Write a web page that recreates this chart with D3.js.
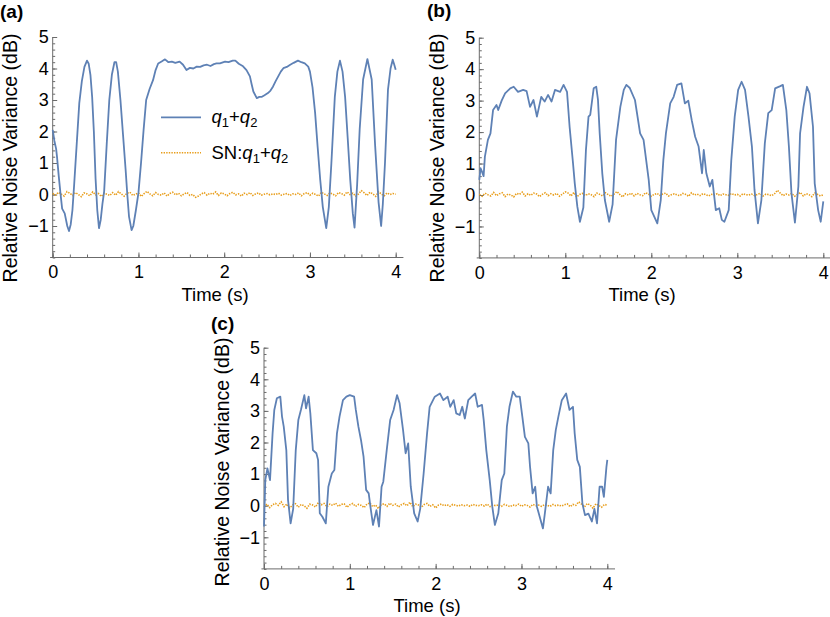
<!DOCTYPE html>
<html lang="en">
<head>
  <meta charset="UTF-8">
  <title>Relative Noise Variance</title>
  <script src="https://cdn.jsdelivr.net/npm/d3@7"></script>
  <style>
    body{ margin:0; background:#fff; }
    text{ font-family:"Liberation Sans", Arial, sans-serif; fill:#000; }
    .axis path, .axis line{ stroke:#6b6b6b; }
  </style>
</head>
<body>
  <svg id="chart" width="830" height="617"></svg>
  <script>

  // tick values and labels
  var xTicks = [0, 1, 2, 3, 4],
    yTicks = [-1, 0, 1, 2, 3, 4, 5],
    panelLabels = ["(a)", "(b)", "(c)"];

  // (a) q1+q2, [time s, dB]
  var curveA = [[0,2.05],[0.02,1.7],[0.04,1.45],[0.05,1.2],[0.07,0.6],[0.09,0.05],[0.11,-0.45],[0.14,-0.6],[0.17,-1.0],[0.19,-1.16],[0.21,-0.95],[0.23,-0.5],[0.25,0.3],[0.28,1.6],[0.31,2.9],[0.34,3.6],[0.37,4.05],[0.40,4.25],[0.42,4.15],[0.44,3.8],[0.46,3.1],[0.48,2.0],[0.50,0.5],[0.52,-0.5],[0.54,-1.07],[0.56,-0.8],[0.58,-0.3],[0.60,0.1],[0.63,1.6],[0.66,3.0],[0.69,3.8],[0.72,4.2],[0.74,4.2],[0.76,3.9],[0.79,3.0],[0.82,1.9],[0.85,0.8],[0.87,0.0],[0.89,-0.7],[0.92,-1.13],[0.94,-1.0],[0.97,-0.5],
    [1.0,0.05],[1.03,1.0],[1.06,2.05],[1.09,3.0],[1.13,3.35],[1.17,3.63],[1.2,3.95],[1.23,4.16],[1.27,4.22],[1.31,4.29],[1.35,4.2],[1.39,4.22],[1.43,4.18],[1.48,4.22],[1.52,4.12],[1.56,3.95],[1.6,4.02],[1.64,4.0],[1.68,4.06],[1.72,4.05],[1.76,4.1],[1.8,4.12],[1.84,4.08],[1.88,4.14],[1.91,4.16],[1.95,4.16],[2.01,4.22],[2.05,4.2],
    [2.1,4.25],[2.13,4.25],[2.17,4.15],[2.22,4.07],[2.26,3.95],[2.3,3.75],[2.32,3.5],[2.34,3.27],[2.38,3.06],[2.41,3.1],[2.44,3.1],[2.47,3.15],[2.51,3.22],[2.54,3.3],[2.57,3.43],[2.6,3.6],[2.63,3.75],[2.66,3.9],[2.69,4.01],[2.73,4.05],[2.77,4.12],[2.81,4.18],[2.86,4.25],[2.9,4.2],[2.94,4.16],[2.98,4.06],[3.0,3.9],[3.03,3.4],[3.06,2.6],[3.09,1.5],[3.12,0.46],[3.15,-0.4],[3.19,-1.07],[3.22,-0.4],[3.25,1.0],[3.29,3.1],[3.32,3.9],[3.35,4.25],[3.38,3.9],[3.41,3.1],[3.44,1.8],[3.47,0.46],[3.5,-0.6],[3.52,-1.05],[3.55,0.3],[3.58,2.07],[3.62,3.65],[3.67,4.3],[3.72,3.65],[3.76,1.56],[3.8,-0.24],[3.83,-1.0],[3.85,-0.3],[3.875,1.0],[3.91,3.33],[3.94,4.0],[3.965,4.28],[3.98,4.15],[4.0,3.96]];

  // (b) q1+q2
  var curveB = [[0,0.48],[0.015,0.85],[0.03,0.75],[0.05,0.6],[0.065,1.22],[0.1,1.75],[0.13,1.96],[0.16,2.7],[0.2,2.86],[0.22,2.7],[0.26,3.0],[0.3,3.23],[0.36,3.39],[0.4,3.44],[0.45,3.28],[0.51,3.34],[0.55,3.3],[0.59,2.8],[0.63,3.02],[0.67,2.49],[0.72,3.12],[0.76,2.97],[0.8,3.18],[0.84,2.97],[0.88,3.34],[0.94,3.28],[0.98,3.5],[1.02,3.28],[1.05,2.17],[1.09,1.0],[1.11,0.37],[1.14,-0.37],[1.17,-0.85],[1.21,-0.4],[1.24,1.43],[1.27,2.49],[1.29,2.55],[1.33,3.39],[1.36,3.44],[1.38,3.02],[1.4,1.96],[1.43,0.69],[1.46,-0.16],[1.51,-0.85],[1.55,-0.3],[1.59,1.75],[1.64,2.8],[1.68,3.34],[1.71,3.5],[1.75,3.4],[1.81,3.02],[1.87,1.96],[1.91,1.75],[1.97,0.48],[2.0,-0.48],[2.07,-0.9],[2.11,-0.16],[2.14,1.11],[2.17,1.96],[2.22,2.91],[2.26,3.12],[2.3,3.5],[2.35,3.55],[2.39,2.91],[2.43,3.0],[2.47,2.38],[2.51,1.85],[2.55,1.54],[2.59,0.69],[2.61,1.43],[2.64,0.69],[2.68,0.27],[2.71,0.48],[2.75,-0.48],[2.79,-0.42],[2.82,-0.79],[2.85,-0.85],[2.9,-0.48],[2.93,1.1],[2.97,2.49],[3.01,3.34],[3.05,3.6],[3.09,3.34],[3.13,2.49],[3.17,1.54],[3.2,0.16],[3.24,-0.9],[3.28,-0.16],[3.32,1.64],[3.36,2.6],[3.4,2.7],[3.44,3.39],[3.5,3.46],[3.53,3.5],[3.57,2.7],[3.6,1.54],[3.63,0.05],[3.67,-0.88],[3.71,0.27],[3.73,1.96],[3.77,2.8],[3.81,3.44],[3.84,3.23],[3.88,2.17],[3.9,0.37],[3.94,-0.48],[3.97,-0.85],[4.0,-0.2]];

  // (c) q1+q2
  var curveC = [[0,-0.66],[0.015,0.81],[0.04,1.18],[0.07,0.81],[0.1,2.29],[0.12,3.03],[0.15,3.4],[0.19,3.45],[0.21,2.82],[0.23,2.5],[0.26,1.76],[0.28,0.18],[0.31,-0.56],[0.34,-0.1],[0.37,1.76],[0.4,2.71],[0.43,3.03],[0.47,3.5],[0.49,3.08],[0.52,3.45],[0.54,2.92],[0.57,1.76],[0.61,1.66],[0.63,1.45],[0.65,-0.24],[0.68,-0.35],[0.72,-0.56],[0.75,0.6],[0.79,1.02],[0.82,1.13],[0.85,2.29],[0.88,2.82],[0.92,3.34],[0.96,3.45],[1.0,3.5],[1.05,3.45],[1.07,3.03],[1.1,2.5],[1.13,2.08],[1.16,1.55],[1.19,0.5],[1.22,0.39],[1.24,-0.03],[1.27,-0.61],[1.31,-0.14],[1.34,-0.66],[1.37,0.6],[1.39,0.76],[1.43,1.76],[1.47,2.71],[1.51,3.03],[1.55,3.5],[1.58,3.24],[1.62,2.4],[1.65,1.66],[1.68,1.97],[1.71,0.6],[1.75,-0.24],[1.79,-0.5],[1.82,-0.1],[1.86,1.02],[1.9,2.29],[1.93,3.13],[1.99,3.45],[2.05,3.55],[2.09,3.34],[2.14,3.45],[2.17,3.13],[2.21,3.34],[2.24,2.92],[2.28,2.87],[2.31,3.13],[2.34,2.76],[2.38,3.34],[2.42,3.45],[2.46,3.55],[2.49,3.13],[2.54,3.19],[2.56,2.71],[2.59,1.76],[2.63,0.81],[2.66,-0.03],[2.69,-0.61],[2.73,-0.24],[2.77,0.81],[2.8,1.02],[2.83,2.5],[2.86,3.13],[2.9,3.61],[2.94,3.45],[2.98,3.45],[3.01,2.82],[3.04,2.18],[3.08,1.97],[3.1,1.23],[3.13,0.39],[3.16,0.6],[3.18,-0.03],[3.25,-0.72],[3.27,-0.3],[3.31,0.6],[3.34,0.39],[3.37,1.76],[3.4,2.4],[3.43,2.82],[3.47,3.34],[3.52,3.55],[3.56,3.03],[3.6,3.13],[3.62,2.29],[3.65,1.45],[3.68,1.23],[3.71,0.07],[3.74,-0.3],[3.78,-0.25],[3.82,-0.5],[3.85,-0.1],[3.88,-0.56],[3.91,0.6],[3.94,0.6],[3.96,0.28],[3.99,1.23],[4.0,1.45]];

  // SN:q1+q2, evenly spaced over 0..4 s
  var snA = [0.03,-0.02,0.07,0.01,-0.05,0.09,0.04,-0.03,0.06,0.00,-0.07,0.05,0.02,-0.04,0.08,-0.01,0.03,-0.06,0.04,0.01,
    -0.03,0.06,-0.02,0.09,0.02,-0.05,0.04,0.07,-0.03,0.01,0.05,-0.06,0.03,0.10,0.02,-0.04,0.06,0.00,-0.02,0.05,
    -0.05,0.03,0.07,-0.01,0.04,-0.04,0.02,0.06,-0.03,0.00,-0.09,-0.05,0.02,0.06,-0.02,0.04,0.01,0.08,-0.03,0.05,
    0.02,-0.04,0.03,0.07,-0.01,0.02,-0.05,0.04,0.00,0.06,-0.03,0.02,0.05,-0.02,0.01,0.03,-0.01,0.02,0.00,0.04,
    -0.02,0.01,0.03,-0.03,0.02,0.00,0.05,-0.04,0.03,0.06,-0.02,0.04,0.00,-0.05,0.07,0.02,-0.03,0.05,0.01,-0.04,
    0.06,0.03,-0.02,0.08,0.00,0.04,-0.05,0.02,0.12,0.05,-0.03,0.07,0.02,-0.06,0.09,0.01,-0.04,0.05,0.00,0.03,0.01];
  var snB = [0.02,-0.04,0.06,0.01,-0.03,0.08,-0.02,0.04,0.07,-0.05,0.03,0.00,-0.06,0.05,0.02,0.09,-0.03,0.04,-0.01,0.06,
    0.03,-0.05,0.02,0.07,-0.02,0.04,0.00,0.05,-0.04,0.03,0.10,0.06,-0.03,0.08,-0.06,0.02,0.05,-0.02,0.04,0.01,
    -0.05,0.06,0.02,-0.03,0.07,0.01,-0.04,0.03,0.11,0.02,-0.06,0.04,0.00,0.06,-0.03,0.05,0.01,-0.02,0.07,0.03,
    -0.04,0.02,0.05,-0.01,0.03,0.06,-0.03,0.01,0.04,0.00,-0.02,0.05,0.02,-0.04,0.07,0.00,0.03,-0.02,0.04,0.01,
    -0.03,0.02,0.00,0.04,-0.02,0.03,0.01,-0.01,0.05,0.00,0.02,-0.03,0.04,0.01,0.00,0.03,-0.02,0.02,0.05,-0.03,
    0.03,0.01,-0.02,0.04,0.15,0.06,-0.02,0.03,0.00,0.05,-0.04,0.02,0.08,-0.03,0.04,0.01,-0.05,0.06,0.02,-0.03,0.01];
  var snC = [-0.04,0.05,-0.06,0.03,0.07,0.01,0.12,-0.03,0.05,-0.07,0.02,0.06,-0.05,0.04,0.00,-0.08,0.05,0.02,-0.04,0.10,
    0.03,0.07,-0.03,0.05,0.01,0.08,-0.02,0.04,0.06,-0.05,0.03,0.07,-0.02,0.04,0.01,-0.06,0.05,0.09,-0.03,0.02,
    -0.09,0.04,0.06,-0.02,0.08,0.01,0.05,-0.04,0.03,0.07,0.00,0.11,-0.03,0.05,0.02,-0.05,0.04,0.07,-0.02,0.03,
    -0.07,0.02,0.05,0.00,0.03,-0.02,0.04,0.01,-0.01,0.03,0.00,0.02,-0.02,0.04,0.01,0.00,0.03,-0.01,0.05,-0.03,
    0.02,0.00,0.03,-0.02,0.04,0.01,-0.03,0.02,0.00,0.05,-0.02,0.03,0.01,-0.04,0.04,0.00,0.02,-0.02,0.03,0.01,
    -0.02,0.04,0.00,0.02,-0.01,0.03,0.06,-0.03,0.04,0.01,0.12,0.05,-0.04,0.07,0.02,-0.08,0.06,0.01,-0.05,0.04,0.02];

  var BLUE = "#5e81b5", ORANGE = "#e89e1c";

  var svg = d3.select("#chart");

  // pixel layout of each panel: x0/x4 = where t=0/t=4 sit, y0/y5 = where 0 dB / 5 dB sit
  var panels = [
    {curve: curveA, sn: snA, x0: 52.7, x4: 395.7, y0: 194.5, y5: 37, lab: [0, 18], yl: [10, 158], xl: 215},
    {curve: curveB, sn: snB, x0: 479.3, x4: 823.3, y0: 195, y5: 37.7, lab: [427, 17], yl: [437, 158], xl: 642},
    {curve: curveC, sn: snC, x0: 264, x4: 607.3, y0: 505.7, y5: 347.7, lab: [211, 330], yl: [222, 462], xl: 427}
  ];

  panels.forEach(function(p, i){
    var x = d3.scaleLinear().domain([0, 4]).range([p.x0, p.x4]),
      y = d3.scaleLinear().domain([0, 5]).range([p.y0, p.y5]),
      g = svg.append("g");

    // axis lines
    g.append("line").attr("x1", x(-0.03)).attr("x2", x(4.09))
      .attr("y1", y(-2)).attr("y2", y(-2)).attr("stroke", "#6b6b6b");
    g.append("line").attr("x1", x(0)).attr("x2", x(0))
      .attr("y1", y(-2)).attr("y2", y(5)).attr("stroke", "#6b6b6b");

    // minor ticks
    g.append("g").attr("class", "axis").attr("transform", "translate(0," + y(-2) + ")")
      .call(d3.axisBottom(x).tickValues(d3.range(0, 4.01, 0.2)).tickSize(-3).tickFormat(""))
      .call(function(a){ a.select(".domain").remove(); });
    g.append("g").attr("class", "axis").attr("transform", "translate(" + x(0) + ",0)")
      .call(d3.axisLeft(y).tickValues(d3.range(-2, 5.01, 0.2)).tickSize(-2.5).tickFormat(""))
      .call(function(a){ a.select(".domain").remove(); });

    // major ticks + labels
    g.append("g").attr("class", "axis").attr("transform", "translate(0," + y(-2) + ")")
      .call(d3.axisBottom(x).tickValues(xTicks).tickSize(-5).tickPadding(8).tickFormat(d3.format("d")))
      .call(function(a){
        a.select(".domain").remove();
        a.selectAll("text").attr("font-size", 18).attr("fill", "#000");
      });
    g.append("g").attr("class", "axis").attr("transform", "translate(" + x(0) + ",0)")
      .call(d3.axisLeft(y).tickValues(yTicks).tickSize(-4.5).tickPadding(4).tickFormat(d3.format("d")))
      .call(function(a){
        a.select(".domain").remove();
        a.selectAll("text").attr("font-size", 18).attr("fill", "#000");
      });

    // SN line (dotted)
    var step = 4 / (p.sn.length - 1);
    g.append("path").datum(p.sn)
      .attr("fill", "none").attr("stroke", ORANGE).attr("stroke-width", 1.6)
      .attr("stroke-dasharray", "1.4,1.2")
      .attr("d", d3.line().x(function(d, k){ return x(k * step); }).y(function(d){ return y(d); }));

    // q1+q2
    g.append("path").datum(p.curve)
      .attr("fill", "none").attr("stroke", BLUE).attr("stroke-width", 1.8)
      .attr("stroke-linejoin", "round")
      .attr("d", d3.line().x(function(d){ return x(d[0]); }).y(function(d){ return y(d[1]); }));

    // labels
    g.append("text").attr("x", p.lab[0]).attr("y", p.lab[1])
      .attr("font-size", 19).attr("font-weight", "bold").text(panelLabels[i]);
    g.append("text").attr("transform", "translate(" + p.yl[0] + "," + p.yl[1] + ")rotate(-90)")
      .attr("text-anchor", "middle").attr("dy", "0.35em").attr("font-size", 19.5)
      .text("Relative Noise Variance (dB)");
    g.append("text").attr("x", p.xl).attr("y", y(-2) + 43)
      .attr("text-anchor", "middle").attr("font-size", 18.5).text("Time (s)");
  });

  // legend in (a)
  var leg = svg.append("g");
  leg.append("line").attr("x1", 161).attr("x2", 201).attr("y1", 117.3).attr("y2", 117.3)
    .attr("stroke", BLUE).attr("stroke-width", 1.8);
  leg.append("line").attr("x1", 161).attr("x2", 201).attr("y1", 152.7).attr("y2", 152.7)
    .attr("stroke", ORANGE).attr("stroke-width", 1.6).attr("stroke-dasharray", "1.4,1.2");

  function qsum(t){
    t.append("tspan").attr("font-style", "italic").text("q");
    t.append("tspan").attr("font-size", 13).attr("dy", 4).text("1");
    t.append("tspan").attr("dy", -4).text("+");
    t.append("tspan").attr("font-style", "italic").text("q");
    t.append("tspan").attr("font-size", 13).attr("dy", 4).text("2");
  }
  var t1 = leg.append("text").attr("x", 211.5).attr("y", 123).attr("font-size", 18.5);
  qsum(t1);
  var t2 = leg.append("text").attr("x", 211.5).attr("y", 159).attr("font-size", 18.5);
  t2.append("tspan").text("SN:");
  qsum(t2);

  </script>
</body>
</html>
